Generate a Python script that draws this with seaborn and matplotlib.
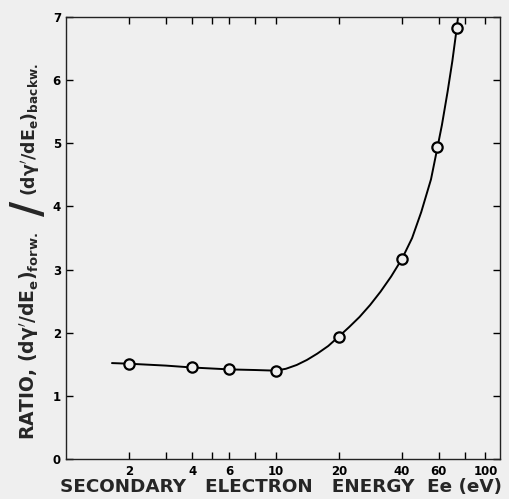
import numpy as np
import pandas as pd
import seaborn as sns
import matplotlib.pyplot as plt

# measured points (energy in eV, forward/backward ratio)
energy = [2, 4, 6, 10, 20, 40, 59, 73]
ratio = [1.51, 1.45, 1.42, 1.40, 1.94, 3.17, 4.94, 6.83]

# hand-drawn smooth curve
curve_energy = [1.66, 2, 3, 4, 6, 8, 10, 11.2, 12.6, 14.1, 15.8, 17.8, 20, 22.4, 25.1,
                28.2, 31.6, 35.5, 40, 44.7, 49.4, 55, 59, 62, 66, 69.5, 73, 75]
curve_ratio = [1.52, 1.51, 1.48, 1.45, 1.42, 1.41, 1.40, 1.43, 1.49, 1.57, 1.67, 1.79, 1.94, 2.09, 2.25,
               2.44, 2.65, 2.89, 3.17, 3.50, 3.91, 4.43, 4.93, 5.29, 5.82, 6.30, 6.83, 7.17]

major_ticks = [2, 4, 6, 10, 20, 40, 60, 100]
minor_ticks = [3, 5, 8, 80]

sns.set_style("ticks")
plt.rcParams['font.family'] = ['DejaVu Sans']
plt.rcParams['font.weight'] = 'bold'
plt.rcParams['mathtext.default'] = 'bf'
plt.rcParams['mathtext.fontset'] = 'dejavusans'

paper = '#efefef'
fig = plt.figure(figsize=(5.10, 4.99), dpi=100, facecolor=paper)
ax = fig.add_axes([0.129, 0.080, 0.851, 0.886], facecolor=paper)

curve = pd.DataFrame({'E': curve_energy, 'R': curve_ratio})
pts = pd.DataFrame({'E': energy, 'R': ratio})

sns.lineplot(data=curve, x='E', y='R', color='black', lw=1.4, sort=False, ax=ax)
sns.scatterplot(data=pts, x='E', y='R', marker='o', s=55, facecolor=paper,
                edgecolor='black', linewidth=1.6, zorder=3, ax=ax)

ax.set_xscale('log')
ax.set_xlim(1.0, 117)
ax.set_ylim(0, 7)
ax.set_xticks(major_ticks)
ax.set_xticklabels([str(t) for t in major_ticks])
ax.set_xticks(minor_ticks, minor=True)
ax.xaxis.set_minor_formatter(plt.NullFormatter())
ax.set_yticks(range(8))

ax.tick_params(which='both', direction='in', top=True, right=True,
               length=5, width=1, labelsize=8.5, colors='black')
ax.tick_params(axis='x', pad=4)
for s in ax.spines.values():
    s.set_linewidth(1.0)
    s.set_color('#222222')

ax.set_xlabel('SECONDARY   ELECTRON   ENERGY  Ee (eV)', fontsize=13.2,
              fontweight='bold')
ax.xaxis.set_label_coords(0.497, -0.043)
ax.set_ylabel('')

# y label in three pieces so the slash can be drawn large
fig.text(0.057, 0.118, r"RATIO, $(d\gamma'/dE_e)_{forw.}$", rotation=90,
         ha='center', va='bottom', fontsize=13.5, fontweight='bold')
fig.text(0.056, 0.582, '/', rotation=90, ha='center', va='center',
         fontsize=30, fontweight='bold')
fig.text(0.060, 0.607, r"$(d\gamma'/dE_e)_{backw.}$", rotation=90,
         ha='center', va='bottom', fontsize=12.5, fontweight='bold')

fig.savefig('out.png', dpi=100, facecolor=paper)
